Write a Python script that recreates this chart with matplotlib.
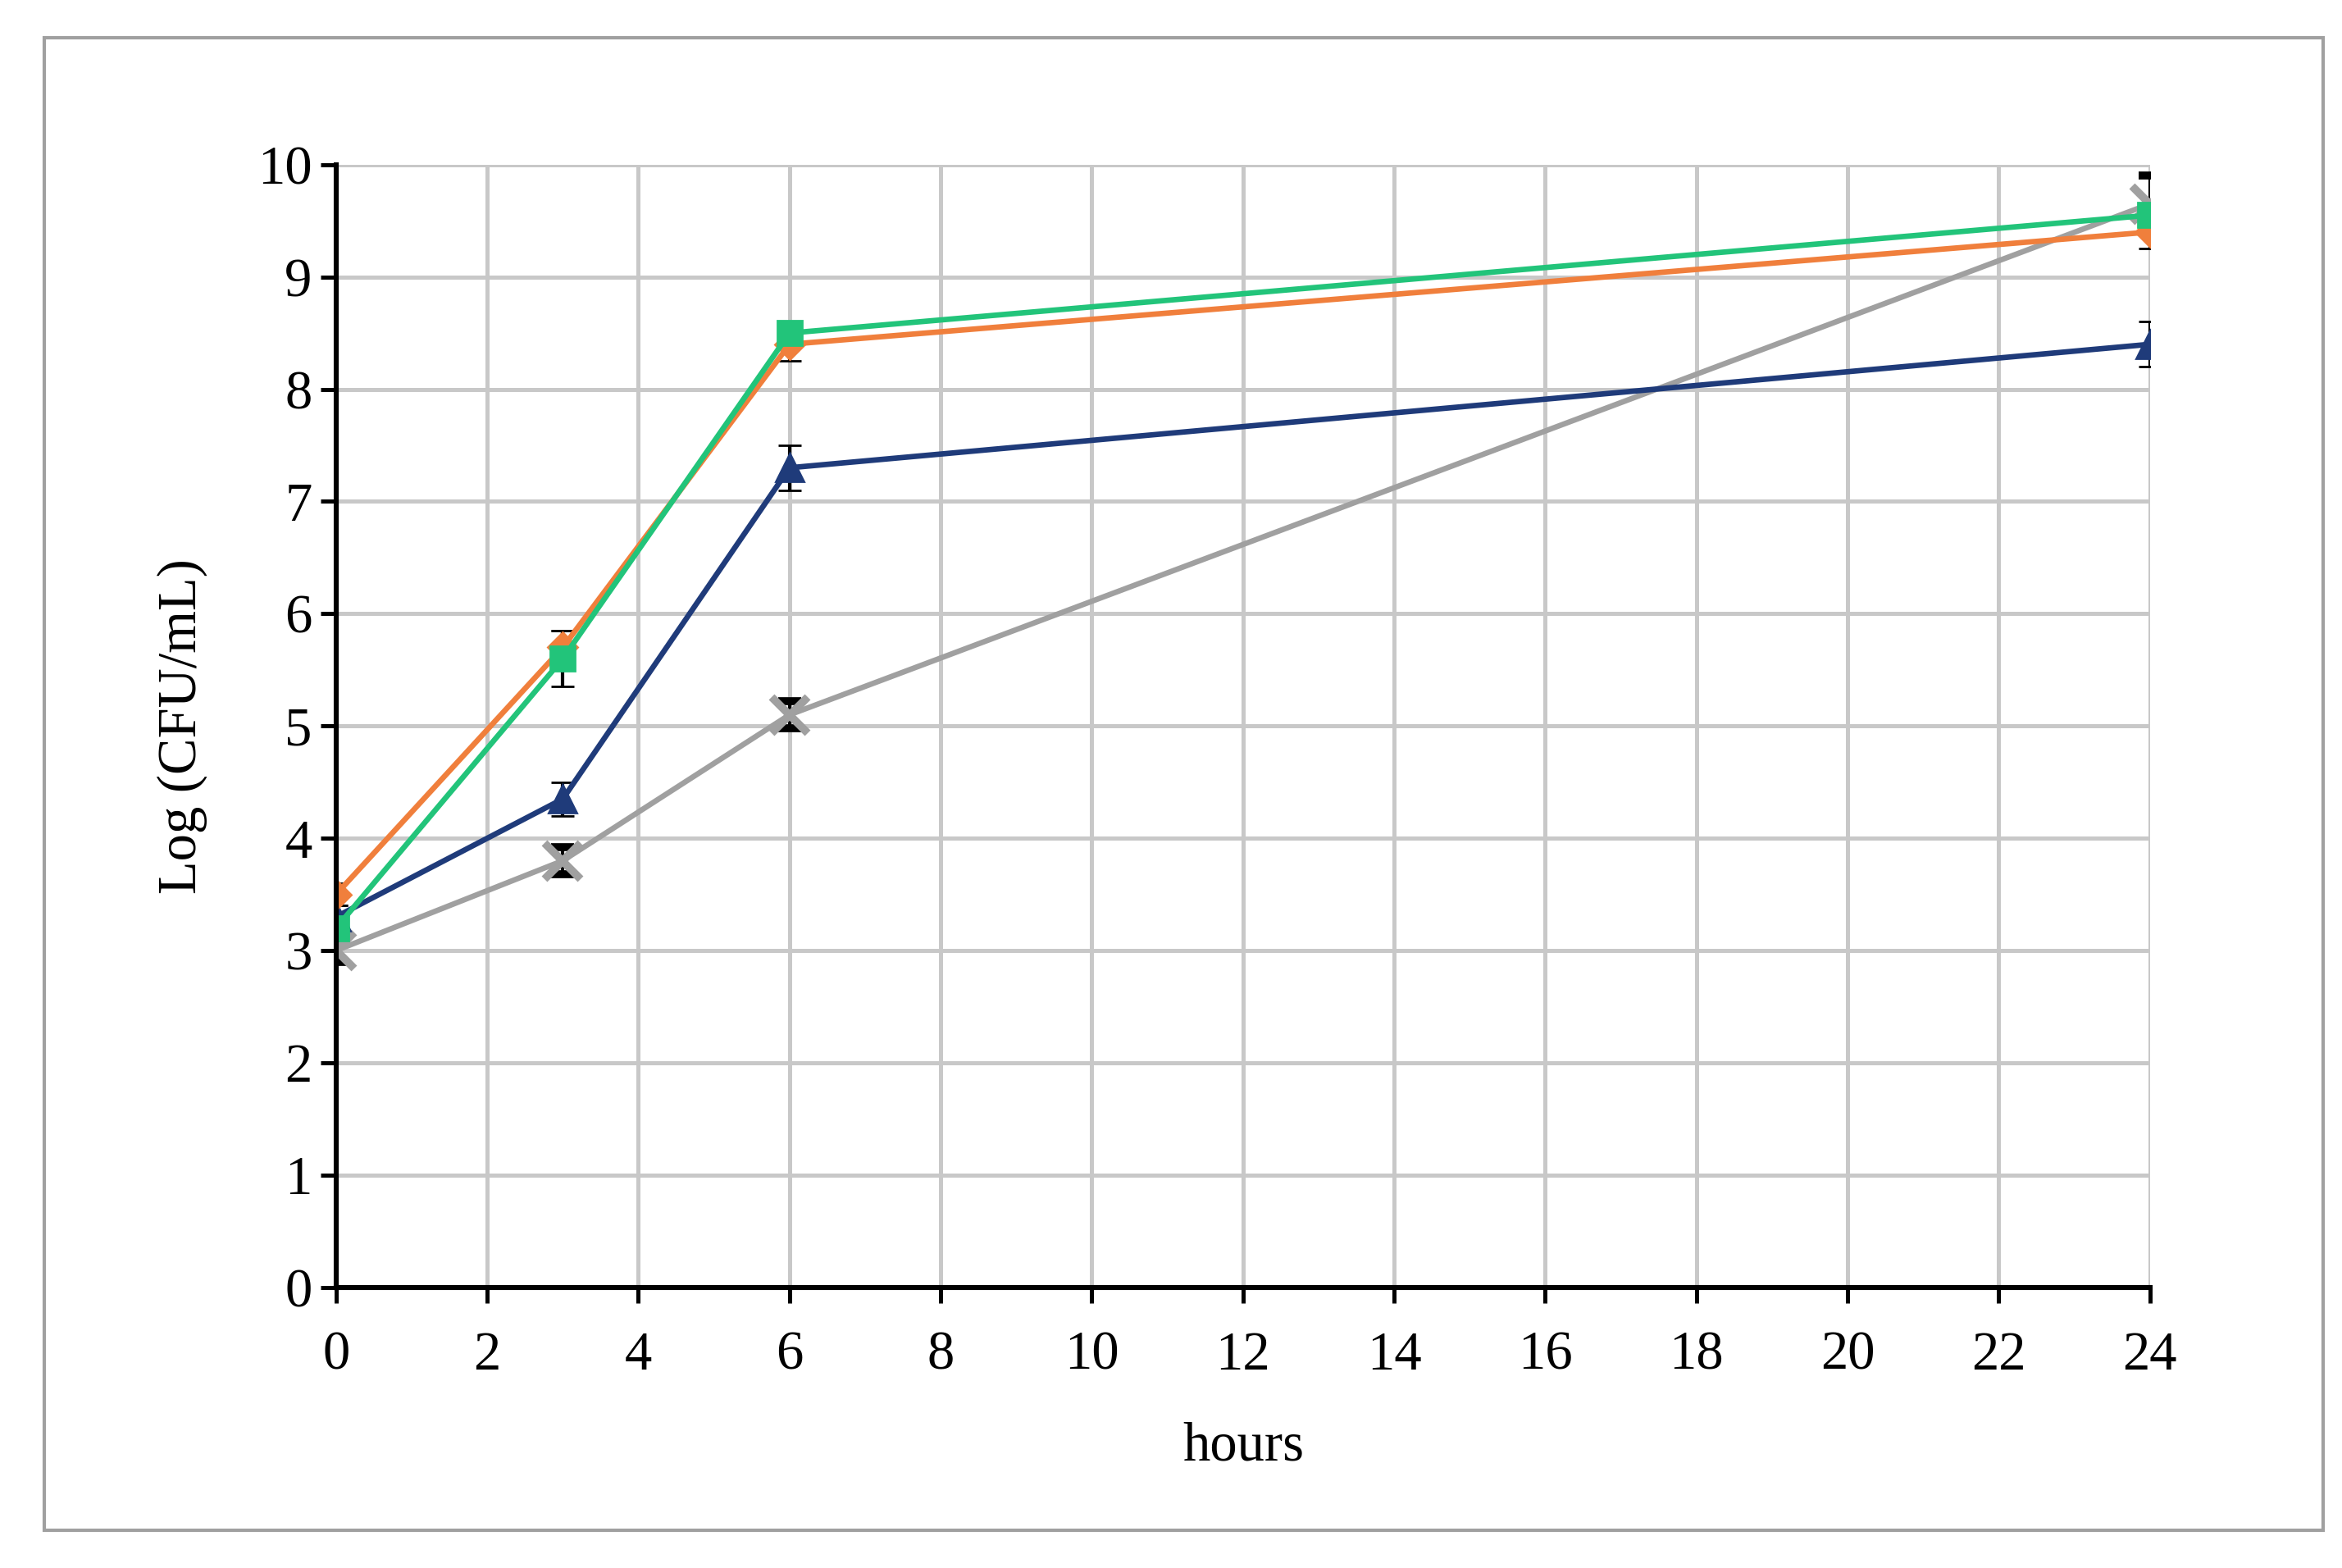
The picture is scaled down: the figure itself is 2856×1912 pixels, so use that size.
import matplotlib
matplotlib.use("Agg")
import matplotlib.pyplot as plt
from matplotlib.patches import Rectangle

hours = [0, 3, 6, 24]

orange = [3.5, 5.7, 8.4, 9.4]
orange_err = [0.1, 0.15, 0.15, 0.15]
green = [3.2, 5.6, 8.5, 9.55]
green_err = [0.1, 0.25, 0.1, 0.1]
blue = [3.3, 4.35, 7.3, 8.4]
blue_err = [0.1, 0.15, 0.2, 0.2]
gray = [3.0, 3.8, 5.1, 9.65]
gray_err = [0.1, 0.12, 0.12, 0.25]

plt.rcParams["font.family"] = ["Liberation Serif", "DejaVu Serif"]

fig = plt.figure(figsize=(14.28, 9.56), dpi=200)
fig.patches.append(Rectangle((0.019, 0.024), 0.973, 0.952, transform=fig.transFigure,
                             fill=False, edgecolor="#a0a0a0", linewidth=1.5))
ax = fig.add_axes([0.1435, 0.179, 0.7745, 0.716])

series = [
    (gray, gray_err, "#a0a0a0", "x", 16),
    (blue, blue_err, "#1f3b7a", "^", 12),
    (orange, orange_err, "#f07f3c", "D", 9),
    (green, green_err, "#22c47a", "s", 11),
]
for vals, err, color, marker, ms in series:
    ax.errorbar(hours, vals, yerr=err, color=color, marker=marker, markersize=ms,
                linewidth=2.4, markeredgewidth=3.5 if marker == "x" else 1,
                ecolor="black", elinewidth=1.5, capsize=5)

ax.set_xlim(0, 24)
ax.set_ylim(0, 10)
ax.set_xticks(range(0, 25, 2))
ax.set_yticks(range(0, 11))
ax.grid(True, color="#c8c8c8", linewidth=1.8)
ax.set_axisbelow(True)
for s in ["top", "right"]:
    ax.spines[s].set_visible(False)
for s in ["left", "bottom"]:
    ax.spines[s].set_linewidth(2.2)
ax.tick_params(labelsize=24, width=1.8, length=7, direction="out")
ax.tick_params(axis="x", pad=12)
ax.set_xlabel("hours", fontsize=24, labelpad=18)
ax.set_ylabel("Log (CFU/mL)", fontsize=24, labelpad=22)

fig.savefig("out.png", dpi=200)
